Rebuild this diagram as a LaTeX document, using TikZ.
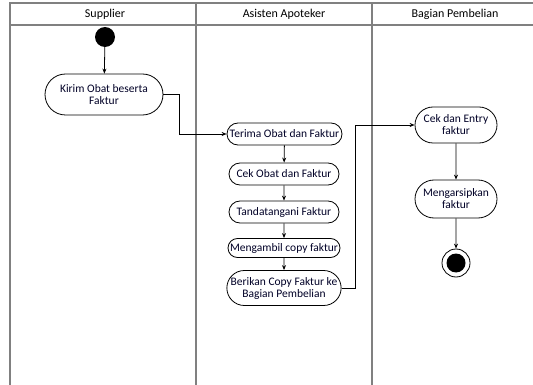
\documentclass[tikz,border=0pt]{standalone}
\usepackage{fontspec}
\setmainfont{Carlito}
\usetikzlibrary{arrows.meta,shapes.misc}
\begin{document}
\begin{tikzpicture}[x=1pt,y=-1pt,
  lane/.style={draw=black!50,line width=1.6pt},
  act/.style={draw,line width=0.8pt,rounded rectangle,inner sep=0pt,
    align=center,font=\fontsize{11.5}{12}\selectfont,text=black!85!blue},
  flow/.style={draw,line width=0.8pt,-{Stealth[length=5pt,width=4pt]}},
  head/.style={font=\fontsize{12}{13}\selectfont}]
\useasboundingbox (0,0) rectangle (533,385);
% swimlanes
\draw[lane] (10,385) -- (10,3) -- (533,3);
\draw[lane] (10,25) -- (533,25);
\draw[lane] (196,3) -- (196,385);
\draw[lane] (372,3) -- (372,385);
\node[head] (h1) at (105,14) {Supplier};
\node[head] (h2) at (284,14) {Asisten Apoteker};
\node[head] (h3) at (455,14) {Bagian Pembelian};
% activities
\node[circle,fill=black,minimum size=20pt,inner sep=0pt] (start) at (105,37) {};
\node[act,minimum width=118pt,minimum height=41pt] (kirim) at (104,94.5) {Kirim Obat beserta\\Faktur};
\node[act,minimum width=115pt,minimum height=22pt] (terima) at (284.5,134) {Terima Obat dan Faktur};
\node[act,minimum width=110pt,minimum height=22pt] (cek) at (284,174) {Cek Obat dan Faktur};
\node[act,minimum width=110pt,minimum height=22pt] (tanda) at (284,212) {Tandatangani Faktur};
\node[act,minimum width=112pt,minimum height=19pt] (ambil) at (284,248) {Mengambil copy faktur};
\node[act,minimum width=114pt,minimum height=35pt] (berikan) at (284,288) {Berikan Copy Faktur ke\\Bagian Pembelian};
\node[act,minimum width=82pt,minimum height=36pt] (entry) at (456,125) {Cek dan Entry\\faktur};
\node[act,minimum width=82pt,minimum height=38pt] (arsip) at (456,199) {Mengarsipkan\\faktur};
\node[circle,draw,line width=0.8pt,minimum size=28pt,inner sep=0pt] (end) at (456,263) {};
\node[circle,fill=black,minimum size=19pt,inner sep=0pt] (endin) at (end.center) {};
% flows
\draw[flow] (start) -- (kirim);
\draw[flow] (kirim.east) -- ++(16,0) |- (terima.west);
\draw[flow] (terima) -- (cek);
\draw[flow] (cek) -- (tanda);
\draw[flow] (tanda) -- (ambil);
\draw[flow] (ambil) -- (berikan);
\draw[flow] (berikan.east) -- ++(14,0) |- (entry.west);
\draw[flow] (entry) -- (arsip);
\draw[flow] (arsip) -- (end);
\end{tikzpicture}
\end{document}
